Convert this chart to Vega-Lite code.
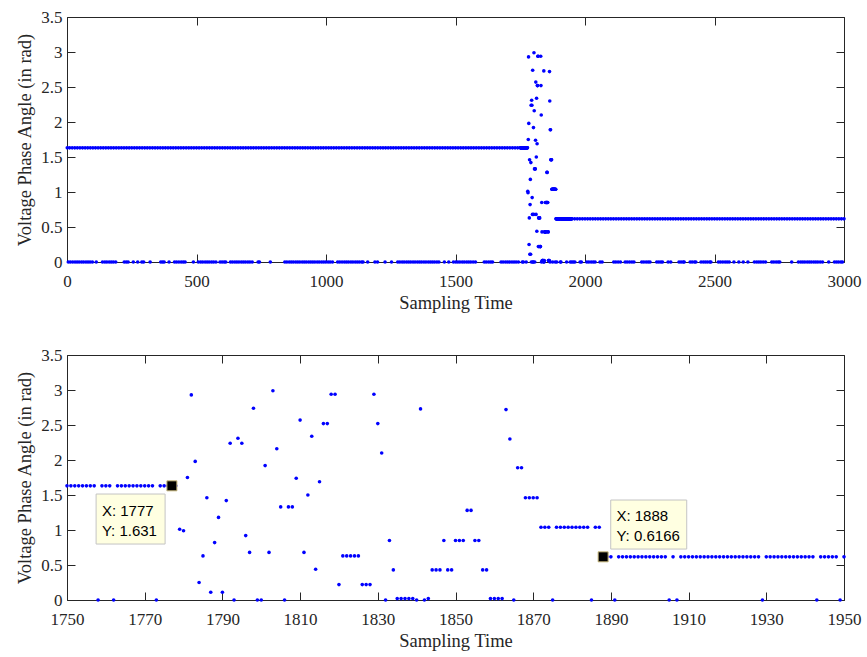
{
"$schema":"https://vega.github.io/schema/vega-lite/v6.json",
"padding":{"left":15,"top":8,"right":10,"bottom":2},
"background":"white",
"spacing":34,
"config":{"font":"Liberation Serif","view":{"stroke":null},
"axis":{"labelFont":"Liberation Serif","titleFont":"Liberation Serif","labelFontSize":17,"titleFontSize":18.5,"titleFontWeight":"normal","labelColor":"#262626","titleColor":"#262626","domainColor":"#262626","tickColor":"#262626","grid":false,"tickSize":-8,"domainWidth":1,"tickWidth":1,"labelPadding":13,"labelFlush":false,"labelOverlap":false},
"axisX":{"labelPadding":19}},
"datasets":{
"tips":[{"t":1777,"v":1.631,"label":"X: 1777\nY: 1.631"},{"t":1888,"v":0.6166,"label":"X: 1888\nY: 0.6166"}],
"detail":[
{"t":1750,"v":1.631},{"t":1751,"v":1.631},{"t":1752,"v":1.631},{"t":1753,"v":1.631},{"t":1754,"v":1.631},{"t":1755,"v":1.631},{"t":1756,"v":1.631},{"t":1757,"v":1.631},{"t":1758,"v":0},{"t":1759,"v":1.631},
{"t":1760,"v":1.631},{"t":1761,"v":1.631},{"t":1762,"v":0},{"t":1763,"v":1.631},{"t":1764,"v":1.631},{"t":1765,"v":1.631},{"t":1766,"v":1.631},{"t":1767,"v":1.631},{"t":1768,"v":1.631},{"t":1769,"v":1.631},
{"t":1770,"v":1.631},{"t":1771,"v":1.631},{"t":1772,"v":1.631},{"t":1773,"v":0},{"t":1774,"v":1.631},{"t":1775,"v":1.631},{"t":1776,"v":1.631},{"t":1777,"v":1.631},{"t":1778,"v":1.631},{"t":1779,"v":1.01},
{"t":1780,"v":0.99},{"t":1781,"v":1.75},{"t":1782,"v":2.93},{"t":1783,"v":1.98},{"t":1784,"v":0.25},{"t":1785,"v":0.63},{"t":1786,"v":1.46},{"t":1787,"v":0.11},{"t":1788,"v":0.82},{"t":1789,"v":1.18},
{"t":1790,"v":0.11},{"t":1791,"v":1.42},{"t":1792,"v":2.24},{"t":1793,"v":0},{"t":1794,"v":2.31},{"t":1795,"v":2.24},{"t":1796,"v":0.92},{"t":1797,"v":0.68},{"t":1798,"v":2.74},{"t":1799,"v":0},
{"t":1800,"v":0},{"t":1801,"v":1.92},{"t":1802,"v":0.68},{"t":1803,"v":2.99},{"t":1804,"v":2.16},{"t":1805,"v":1.33},{"t":1806,"v":0},{"t":1807,"v":1.33},{"t":1808,"v":1.33},{"t":1809,"v":1.74},
{"t":1810,"v":2.57},{"t":1811,"v":0.68},{"t":1812,"v":1.5},{"t":1813,"v":2.34},{"t":1814,"v":0.44},{"t":1815,"v":1.69},{"t":1816,"v":2.52},{"t":1817,"v":2.52},{"t":1818,"v":2.94},{"t":1819,"v":2.94},
{"t":1820,"v":0.22},{"t":1821,"v":0.63},{"t":1822,"v":0.63},{"t":1823,"v":0.63},{"t":1824,"v":0.63},{"t":1825,"v":0.63},{"t":1826,"v":0.22},{"t":1827,"v":0.22},{"t":1828,"v":0.22},{"t":1829,"v":2.94},
{"t":1830,"v":2.52},{"t":1831,"v":2.1},{"t":1832,"v":0},{"t":1833,"v":0.85},{"t":1834,"v":0.43},{"t":1835,"v":0.02},{"t":1836,"v":0.02},{"t":1837,"v":0.02},{"t":1838,"v":0.02},{"t":1839,"v":0.02},
{"t":1840,"v":0},{"t":1841,"v":2.73},{"t":1842,"v":0},{"t":1843,"v":0.02},{"t":1844,"v":0.43},{"t":1845,"v":0.43},{"t":1846,"v":0.43},{"t":1847,"v":0.85},{"t":1848,"v":0.43},{"t":1849,"v":0.43},
{"t":1850,"v":0.85},{"t":1851,"v":0.85},{"t":1852,"v":0.85},{"t":1853,"v":1.28},{"t":1854,"v":1.28},{"t":1855,"v":0.85},{"t":1856,"v":0.85},{"t":1857,"v":0.43},{"t":1858,"v":0.43},{"t":1859,"v":0.02},
{"t":1860,"v":0.02},{"t":1861,"v":0.02},{"t":1862,"v":0.02},{"t":1863,"v":2.72},{"t":1864,"v":2.3},{"t":1865,"v":0},{"t":1866,"v":1.89},{"t":1867,"v":1.89},{"t":1868,"v":1.46},{"t":1869,"v":1.46},
{"t":1870,"v":1.46},{"t":1871,"v":1.46},{"t":1872,"v":1.04},{"t":1873,"v":1.04},{"t":1874,"v":1.04},{"t":1875,"v":0},{"t":1876,"v":1.04},{"t":1877,"v":1.04},{"t":1878,"v":1.04},{"t":1879,"v":1.04},
{"t":1880,"v":1.04},{"t":1881,"v":1.04},{"t":1882,"v":1.04},{"t":1883,"v":1.04},{"t":1884,"v":1.04},{"t":1885,"v":0},{"t":1886,"v":1.04},{"t":1887,"v":1.04},{"t":1888,"v":0.6166},{"t":1889,"v":0.6166},
{"t":1890,"v":0.6166},{"t":1891,"v":0},{"t":1892,"v":0.6166},{"t":1893,"v":0.6166},{"t":1894,"v":0.6166},{"t":1895,"v":0.6166},{"t":1896,"v":0.6166},{"t":1897,"v":0.6166},{"t":1898,"v":0.6166},{"t":1899,"v":0.6166},
{"t":1900,"v":0.6166},{"t":1901,"v":0.6166},{"t":1902,"v":0.6166},{"t":1903,"v":0.6166},{"t":1904,"v":0.6166},{"t":1905,"v":0},{"t":1906,"v":0.6166},{"t":1907,"v":0},{"t":1908,"v":0.6166},{"t":1909,"v":0.6166},
{"t":1910,"v":0.6166},{"t":1911,"v":0.6166},{"t":1912,"v":0.6166},{"t":1913,"v":0.6166},{"t":1914,"v":0.6166},{"t":1915,"v":0.6166},{"t":1916,"v":0.6166},{"t":1917,"v":0.6166},{"t":1918,"v":0.6166},{"t":1919,"v":0.6166},
{"t":1920,"v":0.6166},{"t":1921,"v":0.6166},{"t":1922,"v":0.6166},{"t":1923,"v":0.6166},{"t":1924,"v":0.6166},{"t":1925,"v":0.6166},{"t":1926,"v":0.6166},{"t":1927,"v":0.6166},{"t":1928,"v":0.6166},{"t":1929,"v":0},
{"t":1930,"v":0.6166},{"t":1931,"v":0.6166},{"t":1932,"v":0.6166},{"t":1933,"v":0.6166},{"t":1934,"v":0.6166},{"t":1935,"v":0.6166},{"t":1936,"v":0.6166},{"t":1937,"v":0.6166},{"t":1938,"v":0.6166},{"t":1939,"v":0.6166},
{"t":1940,"v":0.6166},{"t":1941,"v":0.6166},{"t":1942,"v":0.6166},{"t":1943,"v":0},{"t":1944,"v":0.6166},{"t":1945,"v":0.6166},{"t":1946,"v":0.6166},{"t":1947,"v":0.6166},{"t":1948,"v":0.6166},{"t":1949,"v":0},
{"t":1950,"v":0.6166}],
"top":[
{"t":1,"v":1.631},{"t":10,"v":1.631},{"t":20,"v":1.631},{"t":30,"v":1.631},{"t":40,"v":1.631},{"t":50,"v":1.631},{"t":60,"v":1.631},{"t":70,"v":1.631},{"t":80,"v":1.631},{"t":90,"v":1.631},
{"t":100,"v":1.631},{"t":110,"v":1.631},{"t":120,"v":1.631},{"t":130,"v":1.631},{"t":140,"v":1.631},{"t":150,"v":1.631},{"t":160,"v":1.631},{"t":170,"v":1.631},{"t":180,"v":1.631},{"t":190,"v":1.631},
{"t":200,"v":1.631},{"t":210,"v":1.631},{"t":220,"v":1.631},{"t":230,"v":1.631},{"t":240,"v":1.631},{"t":250,"v":1.631},{"t":260,"v":1.631},{"t":270,"v":1.631},{"t":280,"v":1.631},{"t":290,"v":1.631},
{"t":300,"v":1.631},{"t":310,"v":1.631},{"t":320,"v":1.631},{"t":330,"v":1.631},{"t":340,"v":1.631},{"t":350,"v":1.631},{"t":360,"v":1.631},{"t":370,"v":1.631},{"t":380,"v":1.631},{"t":390,"v":1.631},
{"t":400,"v":1.631},{"t":410,"v":1.631},{"t":420,"v":1.631},{"t":430,"v":1.631},{"t":440,"v":1.631},{"t":450,"v":1.631},{"t":460,"v":1.631},{"t":470,"v":1.631},{"t":480,"v":1.631},{"t":490,"v":1.631},
{"t":500,"v":1.631},{"t":510,"v":1.631},{"t":520,"v":1.631},{"t":530,"v":1.631},{"t":540,"v":1.631},{"t":550,"v":1.631},{"t":560,"v":1.631},{"t":570,"v":1.631},{"t":580,"v":1.631},{"t":590,"v":1.631},
{"t":600,"v":1.631},{"t":610,"v":1.631},{"t":620,"v":1.631},{"t":630,"v":1.631},{"t":640,"v":1.631},{"t":650,"v":1.631},{"t":660,"v":1.631},{"t":670,"v":1.631},{"t":680,"v":1.631},{"t":690,"v":1.631},
{"t":700,"v":1.631},{"t":710,"v":1.631},{"t":720,"v":1.631},{"t":730,"v":1.631},{"t":740,"v":1.631},{"t":750,"v":1.631},{"t":760,"v":1.631},{"t":770,"v":1.631},{"t":780,"v":1.631},{"t":790,"v":1.631},
{"t":800,"v":1.631},{"t":810,"v":1.631},{"t":820,"v":1.631},{"t":830,"v":1.631},{"t":840,"v":1.631},{"t":850,"v":1.631},{"t":860,"v":1.631},{"t":870,"v":1.631},{"t":880,"v":1.631},{"t":890,"v":1.631},
{"t":900,"v":1.631},{"t":910,"v":1.631},{"t":920,"v":1.631},{"t":930,"v":1.631},{"t":940,"v":1.631},{"t":950,"v":1.631},{"t":960,"v":1.631},{"t":970,"v":1.631},{"t":980,"v":1.631},{"t":990,"v":1.631},
{"t":1000,"v":1.631},{"t":1010,"v":1.631},{"t":1020,"v":1.631},{"t":1030,"v":1.631},{"t":1040,"v":1.631},{"t":1050,"v":1.631},{"t":1060,"v":1.631},{"t":1070,"v":1.631},{"t":1080,"v":1.631},{"t":1090,"v":1.631},
{"t":1100,"v":1.631},{"t":1110,"v":1.631},{"t":1120,"v":1.631},{"t":1130,"v":1.631},{"t":1140,"v":1.631},{"t":1150,"v":1.631},{"t":1160,"v":1.631},{"t":1170,"v":1.631},{"t":1180,"v":1.631},{"t":1190,"v":1.631},
{"t":1200,"v":1.631},{"t":1210,"v":1.631},{"t":1220,"v":1.631},{"t":1230,"v":1.631},{"t":1240,"v":1.631},{"t":1250,"v":1.631},{"t":1260,"v":1.631},{"t":1270,"v":1.631},{"t":1280,"v":1.631},{"t":1290,"v":1.631},
{"t":1300,"v":1.631},{"t":1310,"v":1.631},{"t":1320,"v":1.631},{"t":1330,"v":1.631},{"t":1340,"v":1.631},{"t":1350,"v":1.631},{"t":1360,"v":1.631},{"t":1370,"v":1.631},{"t":1380,"v":1.631},{"t":1390,"v":1.631},
{"t":1400,"v":1.631},{"t":1410,"v":1.631},{"t":1420,"v":1.631},{"t":1430,"v":1.631},{"t":1440,"v":1.631},{"t":1450,"v":1.631},{"t":1460,"v":1.631},{"t":1470,"v":1.631},{"t":1480,"v":1.631},{"t":1490,"v":1.631},
{"t":1500,"v":1.631},{"t":1510,"v":1.631},{"t":1520,"v":1.631},{"t":1530,"v":1.631},{"t":1540,"v":1.631},{"t":1550,"v":1.631},{"t":1560,"v":1.631},{"t":1570,"v":1.631},{"t":1580,"v":1.631},{"t":1590,"v":1.631},
{"t":1600,"v":1.631},{"t":1610,"v":1.631},{"t":1620,"v":1.631},{"t":1630,"v":1.631},{"t":1640,"v":1.631},{"t":1650,"v":1.631},{"t":1660,"v":1.631},{"t":1670,"v":1.631},{"t":1680,"v":1.631},{"t":1690,"v":1.631},
{"t":1700,"v":1.631},{"t":1710,"v":1.631},{"t":1720,"v":1.631},{"t":1730,"v":1.631},{"t":1740,"v":1.631},
{"t":1960,"v":0.6166},{"t":1970,"v":0.6166},{"t":1980,"v":0.6166},{"t":1990,"v":0.6166},
{"t":2000,"v":0.6166},{"t":2010,"v":0.6166},{"t":2020,"v":0.6166},{"t":2030,"v":0.6166},{"t":2040,"v":0.6166},{"t":2050,"v":0.6166},{"t":2060,"v":0.6166},{"t":2070,"v":0.6166},{"t":2080,"v":0.6166},{"t":2090,"v":0.6166},
{"t":2100,"v":0.6166},{"t":2110,"v":0.6166},{"t":2120,"v":0.6166},{"t":2130,"v":0.6166},{"t":2140,"v":0.6166},{"t":2150,"v":0.6166},{"t":2160,"v":0.6166},{"t":2170,"v":0.6166},{"t":2180,"v":0.6166},{"t":2190,"v":0.6166},
{"t":2200,"v":0.6166},{"t":2210,"v":0.6166},{"t":2220,"v":0.6166},{"t":2230,"v":0.6166},{"t":2240,"v":0.6166},{"t":2250,"v":0.6166},{"t":2260,"v":0.6166},{"t":2270,"v":0.6166},{"t":2280,"v":0.6166},{"t":2290,"v":0.6166},
{"t":2300,"v":0.6166},{"t":2310,"v":0.6166},{"t":2320,"v":0.6166},{"t":2330,"v":0.6166},{"t":2340,"v":0.6166},{"t":2350,"v":0.6166},{"t":2360,"v":0.6166},{"t":2370,"v":0.6166},{"t":2380,"v":0.6166},{"t":2390,"v":0.6166},
{"t":2400,"v":0.6166},{"t":2410,"v":0.6166},{"t":2420,"v":0.6166},{"t":2430,"v":0.6166},{"t":2440,"v":0.6166},{"t":2450,"v":0.6166},{"t":2460,"v":0.6166},{"t":2470,"v":0.6166},{"t":2480,"v":0.6166},{"t":2490,"v":0.6166},
{"t":2500,"v":0.6166},{"t":2510,"v":0.6166},{"t":2520,"v":0.6166},{"t":2530,"v":0.6166},{"t":2540,"v":0.6166},{"t":2550,"v":0.6166},{"t":2560,"v":0.6166},{"t":2570,"v":0.6166},{"t":2580,"v":0.6166},{"t":2590,"v":0.6166},
{"t":2600,"v":0.6166},{"t":2610,"v":0.6166},{"t":2620,"v":0.6166},{"t":2630,"v":0.6166},{"t":2640,"v":0.6166},{"t":2650,"v":0.6166},{"t":2660,"v":0.6166},{"t":2670,"v":0.6166},{"t":2680,"v":0.6166},{"t":2690,"v":0.6166},
{"t":2700,"v":0.6166},{"t":2710,"v":0.6166},{"t":2720,"v":0.6166},{"t":2730,"v":0.6166},{"t":2740,"v":0.6166},{"t":2750,"v":0.6166},{"t":2760,"v":0.6166},{"t":2770,"v":0.6166},{"t":2780,"v":0.6166},{"t":2790,"v":0.6166},
{"t":2800,"v":0.6166},{"t":2810,"v":0.6166},{"t":2820,"v":0.6166},{"t":2830,"v":0.6166},{"t":2840,"v":0.6166},{"t":2850,"v":0.6166},{"t":2860,"v":0.6166},{"t":2870,"v":0.6166},{"t":2880,"v":0.6166},{"t":2890,"v":0.6166},
{"t":2900,"v":0.6166},{"t":2910,"v":0.6166},{"t":2920,"v":0.6166},{"t":2930,"v":0.6166},{"t":2940,"v":0.6166},{"t":2950,"v":0.6166},{"t":2960,"v":0.6166},{"t":2970,"v":0.6166},{"t":2980,"v":0.6166},{"t":2990,"v":0.6166},
{"t":3000,"v":0.6166},
{"t":5,"v":0},{"t":13,"v":0},{"t":22,"v":0},{"t":31,"v":0},{"t":39,"v":0},{"t":47,"v":0},{"t":56,"v":0},{"t":64,"v":0},{"t":73,"v":0},{"t":81,"v":0},{"t":89,"v":0},{"t":98,"v":0},{"t":113,"v":0},
{"t":137,"v":0},{"t":146,"v":0},{"t":154,"v":0},{"t":163,"v":0},{"t":171,"v":0},{"t":179,"v":0},{"t":188,"v":0},{"t":221,"v":0},{"t":229,"v":0},{"t":236,"v":0},{"t":256,"v":0},{"t":273,"v":0},{"t":289,"v":0},{"t":296,"v":0},
{"t":321,"v":0},{"t":362,"v":0},{"t":369,"v":0},{"t":375,"v":0},{"t":394,"v":0},{"t":415,"v":0},{"t":423,"v":0},{"t":432,"v":0},{"t":441,"v":0},{"t":449,"v":0},{"t":456,"v":0},{"t":488,"v":0},
{"t":507,"v":0},{"t":516,"v":0},{"t":524,"v":0},{"t":533,"v":0},{"t":541,"v":0},{"t":549,"v":0},{"t":558,"v":0},{"t":566,"v":0},{"t":575,"v":0},{"t":591,"v":0},{"t":599,"v":0},{"t":607,"v":0},{"t":613,"v":0},
{"t":631,"v":0},{"t":639,"v":0},{"t":648,"v":0},{"t":656,"v":0},{"t":664,"v":0},{"t":673,"v":0},{"t":681,"v":0},{"t":689,"v":0},{"t":698,"v":0},{"t":706,"v":0},{"t":715,"v":0},{"t":738,"v":0},{"t":743,"v":0},{"t":785,"v":0},
{"t":841,"v":0},{"t":849,"v":0},{"t":858,"v":0},{"t":866,"v":0},{"t":874,"v":0},{"t":883,"v":0},{"t":891,"v":0},{"t":899,"v":0},{"t":908,"v":0},{"t":916,"v":0},{"t":924,"v":0},{"t":933,"v":0},{"t":941,"v":0},{"t":949,"v":0},
{"t":957,"v":0},{"t":966,"v":0},{"t":974,"v":0},{"t":983,"v":0},{"t":991,"v":0},{"t":999,"v":0},{"t":1008,"v":0},{"t":1016,"v":0},{"t":1025,"v":0},{"t":1045,"v":0},{"t":1053,"v":0},{"t":1062,"v":0},{"t":1071,"v":0},
{"t":1079,"v":0},{"t":1087,"v":0},{"t":1096,"v":0},{"t":1104,"v":0},{"t":1113,"v":0},{"t":1121,"v":0},{"t":1129,"v":0},{"t":1138,"v":0},{"t":1143,"v":0},{"t":1161,"v":0},{"t":1189,"v":0},{"t":1199,"v":0},{"t":1228,"v":0},{"t":1253,"v":0},
{"t":1277,"v":0},{"t":1285,"v":0},{"t":1294,"v":0},{"t":1302,"v":0},{"t":1311,"v":0},{"t":1319,"v":0},{"t":1327,"v":0},{"t":1336,"v":0},{"t":1344,"v":0},{"t":1353,"v":0},{"t":1361,"v":0},{"t":1369,"v":0},{"t":1378,"v":0},
{"t":1386,"v":0},{"t":1395,"v":0},{"t":1403,"v":0},{"t":1411,"v":0},{"t":1419,"v":0},{"t":1428,"v":0},{"t":1436,"v":0},{"t":1457,"v":0},{"t":1474,"v":0},{"t":1492,"v":0},{"t":1501,"v":0},{"t":1509,"v":0},{"t":1517,"v":0},
{"t":1526,"v":0},{"t":1534,"v":0},{"t":1543,"v":0},{"t":1551,"v":0},{"t":1559,"v":0},{"t":1568,"v":0},{"t":1577,"v":0},{"t":1611,"v":0},{"t":1619,"v":0},{"t":1628,"v":0},{"t":1636,"v":0},{"t":1643,"v":0},
{"t":1676,"v":0},{"t":1684,"v":0},{"t":1693,"v":0},{"t":1701,"v":0},{"t":1709,"v":0},{"t":1718,"v":0},{"t":1726,"v":0},{"t":1734,"v":0},{"t":1743,"v":0},
{"t":1955,"v":0},{"t":1961,"v":0},{"t":1981,"v":0},{"t":1986,"v":0},{"t":2007,"v":0},{"t":2015,"v":0},{"t":2024,"v":0},{"t":2032,"v":0},{"t":2039,"v":0},{"t":2058,"v":0},{"t":2066,"v":0},
{"t":2111,"v":0},{"t":2119,"v":0},{"t":2128,"v":0},{"t":2137,"v":0},{"t":2155,"v":0},{"t":2163,"v":0},{"t":2172,"v":0},{"t":2181,"v":0},{"t":2189,"v":0},{"t":2219,"v":0},{"t":2227,"v":0},{"t":2236,"v":0},{"t":2244,"v":0},{"t":2251,"v":0},
{"t":2277,"v":0},{"t":2285,"v":0},{"t":2293,"v":0},{"t":2299,"v":0},{"t":2321,"v":0},{"t":2331,"v":0},{"t":2363,"v":0},{"t":2371,"v":0},{"t":2379,"v":0},{"t":2383,"v":0},{"t":2406,"v":0},{"t":2414,"v":0},{"t":2423,"v":0},{"t":2428,"v":0},
{"t":2448,"v":0},{"t":2457,"v":0},{"t":2465,"v":0},{"t":2473,"v":0},{"t":2482,"v":0},{"t":2486,"v":0},{"t":2515,"v":0},{"t":2523,"v":0},{"t":2532,"v":0},{"t":2541,"v":0},{"t":2549,"v":0},{"t":2557,"v":0},
{"t":2575,"v":0},{"t":2594,"v":0},{"t":2611,"v":0},{"t":2629,"v":0},{"t":2654,"v":0},{"t":2663,"v":0},{"t":2671,"v":0},{"t":2679,"v":0},{"t":2688,"v":0},{"t":2697,"v":0},
{"t":2721,"v":0},{"t":2729,"v":0},{"t":2738,"v":0},{"t":2746,"v":0},{"t":2752,"v":0},{"t":2798,"v":0},{"t":2824,"v":0},{"t":2833,"v":0},{"t":2841,"v":0},{"t":2849,"v":0},{"t":2858,"v":0},{"t":2866,"v":0},
{"t":2874,"v":0},{"t":2883,"v":0},{"t":2891,"v":0},{"t":2899,"v":0},{"t":2908,"v":0},{"t":2917,"v":0},{"t":2941,"v":0},{"t":2963,"v":0},{"t":2971,"v":0},{"t":2979,"v":0},{"t":2988,"v":0},{"t":2994,"v":0}]
},
"vconcat":[
{"width":777,"height":245,
"resolve":{"axis":{"x":"independent","y":"independent"}},
"layer":[
{"data":{"name":"top"},"mark":{"type":"circle","size":13,"color":"#0000ff","opacity":1},
"encoding":{"x":{"field":"t","type":"quantitative","scale":{"domain":[0,3000],"nice":false,"zero":false},"axis":{"orient":"bottom","values":[0,500,1000,1500,2000,2500,3000],"format":"d","title":"Sampling Time","titlePadding":4}},
"y":{"field":"v","type":"quantitative","scale":{"domain":[0,3.5],"nice":false},"axis":{"orient":"left","values":[0,0.5,1,1.5,2,2.5,3,3.5],"format":"~g","title":"Voltage Phase Angle (in rad)","titlePadding":6}}}},
{"data":{"name":"detail"},"mark":{"type":"circle","size":13,"color":"#0000ff","opacity":1},
"encoding":{"x":{"field":"t","type":"quantitative","scale":{"domain":[0,3000],"nice":false,"zero":false},"axis":{"orient":"top","values":[0,500,1000,1500,2000,2500,3000],"labels":false,"title":null}},
"y":{"field":"v","type":"quantitative","scale":{"domain":[0,3.5],"nice":false},"axis":{"orient":"right","values":[0,0.5,1,1.5,2,2.5,3,3.5],"labels":false,"title":null}}}}
]},
{"width":777,"height":245,
"resolve":{"axis":{"x":"independent","y":"independent"}},
"layer":[
{"data":{"name":"detail"},"mark":{"type":"circle","size":13,"color":"#0000ff","opacity":1},
"encoding":{"x":{"field":"t","type":"quantitative","scale":{"domain":[1750,1950],"nice":false,"zero":false},"axis":{"orient":"bottom","values":[1750,1770,1790,1810,1830,1850,1870,1890,1910,1930,1950],"format":"d","title":"Sampling Time","titlePadding":4}},
"y":{"field":"v","type":"quantitative","scale":{"domain":[0,3.5],"nice":false},"axis":{"orient":"left","values":[0,0.5,1,1.5,2,2.5,3,3.5],"format":"~g","title":"Voltage Phase Angle (in rad)","titlePadding":6}}}},
{"data":{"name":"tips"},"transform":[{"filter":"datum.t == 1777"}],
"mark":{"type":"point","shape":"M-1,-0.725H1V0.725H-1Z","size":4761,"filled":true,"fill":"#ffffe1","stroke":"#c4c4c4","strokeWidth":1,"opacity":1,"xOffset":-41.3,"yOffset":33.2},
"encoding":{"x":{"field":"t","type":"quantitative","axis":null},"y":{"field":"v","type":"quantitative","axis":null}}},
{"data":{"name":"tips"},"transform":[{"filter":"datum.t == 1888"}],
"mark":{"type":"point","shape":"M-1,-0.645H1V0.645H-1Z","size":5776,"filled":true,"fill":"#ffffe1","stroke":"#c4c4c4","strokeWidth":1,"opacity":1,"xOffset":45.6,"yOffset":-32.3},
"encoding":{"x":{"field":"t","type":"quantitative","axis":null},"y":{"field":"v","type":"quantitative","axis":null}}},
{"data":{"name":"tips"},
"mark":{"type":"square","size":100,"color":"#000000","stroke":"#c8b87c","strokeWidth":1,"opacity":1},
"encoding":{"x":{"field":"t","type":"quantitative","axis":{"orient":"top","values":[1750,1770,1790,1810,1830,1850,1870,1890,1910,1930,1950],"labels":false,"title":null}},
"y":{"field":"v","type":"quantitative","axis":{"orient":"right","values":[0,0.5,1,1.5,2,2.5,3,3.5],"labels":false,"title":null}}}},
{"data":{"name":"tips"},"transform":[{"filter":"datum.t == 1777"}],
"mark":{"type":"text","font":"Liberation Sans","fontSize":15,"align":"left","baseline":"top","lineBreak":"\n","lineHeight":20,"dx":-70,"dy":18.2,"color":"#000000"},
"encoding":{"x":{"field":"t","type":"quantitative","axis":null},"y":{"field":"v","type":"quantitative","axis":null},"text":{"field":"label","type":"nominal"}}},
{"data":{"name":"tips"},"transform":[{"filter":"datum.t == 1888"}],
"mark":{"type":"text","font":"Liberation Sans","fontSize":15,"align":"left","baseline":"top","lineBreak":"\n","lineHeight":19.5,"dx":13.3,"dy":-47.8,"color":"#000000"},
"encoding":{"x":{"field":"t","type":"quantitative","axis":null},"y":{"field":"v","type":"quantitative","axis":null},"text":{"field":"label","type":"nominal"}}}
]}
]
}
